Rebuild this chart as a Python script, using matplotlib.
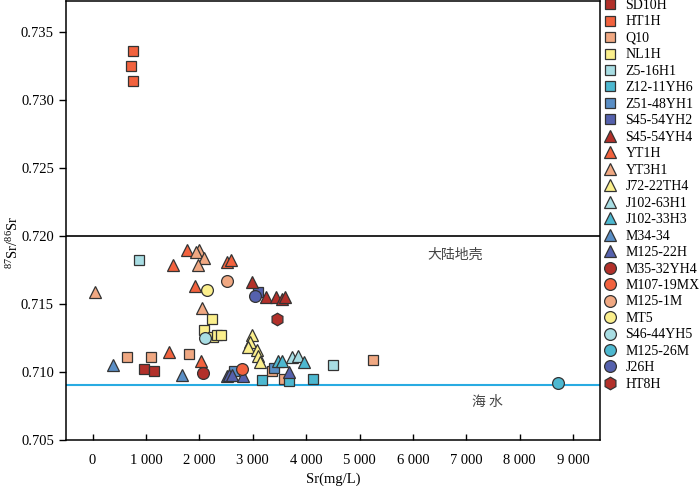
import matplotlib
matplotlib.use("Agg")
import matplotlib.pyplot as plt

plt.rcParams['font.family'] = ['Liberation Serif', 'Noto Sans CJK SC']
plt.rcParams['mathtext.fontset'] = 'custom'
plt.rcParams['mathtext.rm'] = 'Liberation Serif'
plt.rcParams['mathtext.it'] = 'Liberation Serif'

# colours of the sample groups
c_dred = '#b2302a'
c_ored = '#f2623e'
c_salm = '#f0a882'
c_yell = '#fbef8c'
c_lcya = '#a8dde3'
c_cyan = '#4db8d0'
c_stbl = '#5a8ec5'
c_purp = '#5561ad'

# Sr (mg/L) and 87Sr/86Sr per sample group
sd10h_x = [955, 1150]
sd10h_y = [0.7102, 0.7101]
ht1h_x = [750, 725, 760]
ht1h_y = [0.7336, 0.7325, 0.7314]
q10_x = [640, 1100, 1810, 3360, 3580, 5260]
q10_y = [0.7111, 0.7111, 0.7113, 0.7101, 0.7095, 0.7109]
nl1h_x = [2090, 2230, 2250, 2330, 2400]
nl1h_y = [0.7131, 0.7139, 0.7126, 0.7127, 0.7127]
z5_x = [870, 4510]
z5_y = [0.7182, 0.7105]
z12_x = [3170, 3680, 4125]
z12_y = [0.7094, 0.7093, 0.7095]
z51_x = [2640, 3395]
z51_y = [0.7101, 0.7103]
s45h2_x = [3090]
s45h2_y = [0.7159]
s45h4_x = [2980, 3245, 3430, 3540, 3610]
s45h4_y = [0.7166, 0.7155, 0.7155, 0.7154, 0.7155]
yt1h_x = [1770, 1500, 1915, 2510, 2600, 1430, 2030]
yt1h_y = [0.7190, 0.7179, 0.7163, 0.7181, 0.7182, 0.7115, 0.7108]
yt3h1_x = [1995, 1930, 2090, 1978, 55, 2053]
yt3h1_y = [0.7190, 0.7188, 0.7184, 0.7179, 0.7159, 0.7147]
j72_x = [2980, 2946, 2914, 3071, 3101, 3133]
j72_y = [0.7127, 0.7122, 0.7118, 0.7116, 0.7112, 0.7107]
j102_63_x = [3727, 3851]
j102_63_y = [0.7111, 0.7112]
j102_33_x = [3476, 3539, 3960]
j102_33_y = [0.7108, 0.7108, 0.7107]
m34_x = [380, 1680]
m34_y = [0.7105, 0.7098]
m125_22_x = [2510, 2560, 2620, 2820, 3676]
m125_22_y = [0.7097, 0.7098, 0.7098, 0.7097, 0.7100]
m35_x = [2060]
m35_y = [0.7099]
m107_x = [2790]
m107_y = [0.7102]
m125_1_x = [2510]
m125_1_y = [0.7167]
mt5_x = [2135]
mt5_y = [0.7160]
s46_x = [2110]
s46_y = [0.7125]
m125_26_x = [8710]
m125_26_y = [0.7092]
j26h_x = [3040]
j26h_y = [0.7156]
ht8h_x = [3450]
ht8h_y = [0.7139]

series = [
    ('SD10H', 's', c_dred, sd10h_x, sd10h_y),
    ('HT1H', 's', c_ored, ht1h_x, ht1h_y),
    ('Q10', 's', c_salm, q10_x, q10_y),
    ('NL1H', 's', c_yell, nl1h_x, nl1h_y),
    ('Z5-16H1', 's', c_lcya, z5_x, z5_y),
    ('Z12-11YH6', 's', c_cyan, z12_x, z12_y),
    ('Z51-48YH1', 's', c_stbl, z51_x, z51_y),
    ('S45-54YH2', 's', c_purp, s45h2_x, s45h2_y),
    ('S45-54YH4', '^', c_dred, s45h4_x, s45h4_y),
    ('YT1H', '^', c_ored, yt1h_x, yt1h_y),
    ('YT3H1', '^', c_salm, yt3h1_x, yt3h1_y),
    ('J72-22TH4', '^', c_yell, j72_x, j72_y),
    ('J102-63H1', '^', c_lcya, j102_63_x, j102_63_y),
    ('J102-33H3', '^', c_cyan, j102_33_x, j102_33_y),
    ('M34-34', '^', c_stbl, m34_x, m34_y),
    ('M125-22H', '^', c_purp, m125_22_x, m125_22_y),
    ('M35-32YH4', 'o', c_dred, m35_x, m35_y),
    ('M107-19MX', 'o', c_ored, m107_x, m107_y),
    ('M125-1M', 'o', c_salm, m125_1_x, m125_1_y),
    ('MT5', 'o', c_yell, mt5_x, mt5_y),
    ('S46-44YH5', 'o', c_lcya, s46_x, s46_y),
    ('M125-26M', 'o', c_cyan, m125_26_x, m125_26_y),
    ('J26H', 'o', c_purp, j26h_x, j26h_y),
    ('HT8H', 'h', c_dred, ht8h_x, ht8h_y),
]

xticks = [0, 1000, 2000, 3000, 4000, 5000, 6000, 7000, 8000, 9000]
xticklabels = ['0', '1 000', '2 000', '3 000', '4 000', '5 000', '6 000',
               '7 000', '8 000', '9 000']
yticks = [0.705, 0.710, 0.715, 0.720, 0.725, 0.730, 0.735]

crust = 0.720
seawater = 0.709

fig = plt.figure(figsize=(7, 4.86), dpi=100)
ax = fig.add_axes([0.094, 0.095, 0.763, 0.903])

sizes = {'s': 7.5, '^': 9, 'o': 8.5, 'h': 9}
handles = []
for name, mk, col, xs, ys in series:
    h, = ax.plot(xs, ys, linestyle='none', marker=mk, markersize=sizes[mk],
                 markerfacecolor=col, markeredgecolor='#333333',
                 markeredgewidth=0.9, label=name, zorder=3)
    handles.append(h)

ax.axhline(crust, color='black', lw=1.2, zorder=2)
ax.axhline(seawater, color='#29abe2', lw=1.5, zorder=2)
ax.text(6790, 0.7186, '大陆地壳', fontsize=10, color='#444444',
        family=['Noto Sans CJK SC'], ha='center', va='center')
ax.text(7400, 0.7078, '海 水', fontsize=10, color='#444444',
        family=['Noto Sans CJK SC'], ha='center', va='center')

ax.set_xlim(-500, 9500)
ax.set_ylim(0.705, 0.7373)
ax.set_xticks(xticks)
ax.set_xticklabels(xticklabels)
ax.set_yticks(yticks)
ax.set_yticklabels(['%.3f' % v for v in yticks])
ax.tick_params(axis='x', direction='in', length=4, width=1, labelsize=10.5, pad=10)
ax.tick_params(axis='y', direction='out', length=5, width=1, labelsize=10.5)
for sp in ax.spines.values():
    sp.set_linewidth(1.1)

ax.set_xlabel('Sr(mg/L)', fontsize=10.5, labelpad=4)
ax.set_ylabel('$^{87}$Sr/$^{86}$Sr', fontsize=10.5)
ax.yaxis.set_label_coords(-0.083, 0.45)

fig.legend(handles=handles, loc='upper left', bbox_to_anchor=(0.862, 1.005),
           frameon=False, fontsize=10, labelspacing=0.25, handlelength=0.8,
           handletextpad=0.7, borderaxespad=0, borderpad=0.1)

fig.savefig('out.png', dpi=100)
